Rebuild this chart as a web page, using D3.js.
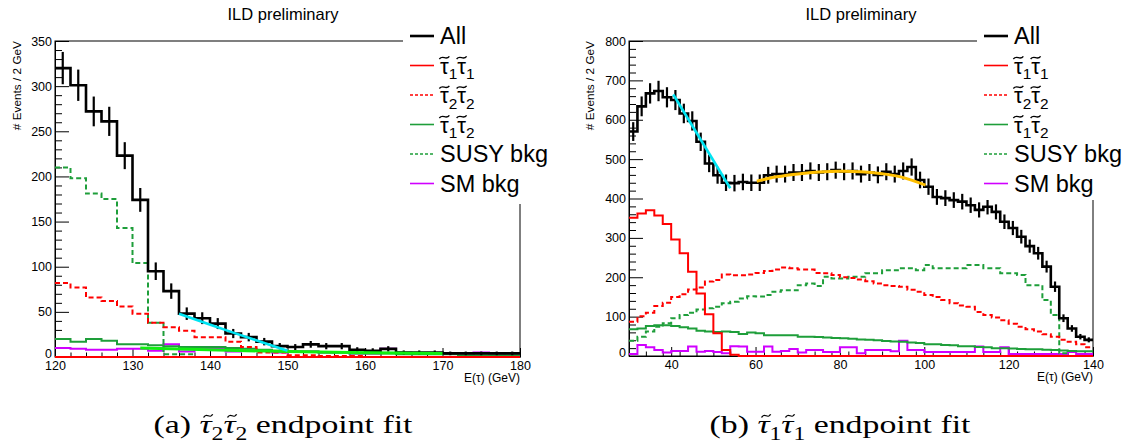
<!DOCTYPE html>
<html>
<head>
<meta charset="utf-8">
<script src="https://cdn.jsdelivr.net/npm/d3@7"></script>
<style>
body { margin: 0; background: #fff; }
svg { display: block; }
text { font-family: "Liberation Sans", Arial, sans-serif; fill: #000; }
</style>
</head>
<body>
<svg id="chart" width="1133" height="445"></svg>
<script>
'use strict';

// (a) stau2 stau2 panel, bins of 2 GeV from 120 to 180
var binsA = d3.range(120, 180, 2);
var allA = [320, 301, 272, 261, 223, 174, 95, 73, 48, 43, 37, 26, 22, 17, 12, 11, 14, 12, 12, 8, 7, 9, 5, 5, 5, 4, 4, 4, 4, 4];
var stau11A = [0, 0, 0, 0, 0, 0, 0, 0, 0, 0, 0, 0, 0, 0, 0, 0, 0, 0, 0, 0, 0, 0, 0, 0, 0, 0, 0, 0, 0, 0];
var stau22A = [82, 77, 66, 62, 56, 48, 38, 33, 29, 22, 22, 17, 11, 5, 5, 2, 2, 1, 1, 1, 0, 0, 0, 0, 0, 0, 0, 0, 0, 0];
var stau12A = [20, 17, 20, 18, 14, 14, 13, 12, 11, 11, 11, 10, 9, 8, 7, 6, 6, 5, 5, 4, 4, 4, 3, 3, 3, 3, 2, 2, 2, 2];
var susyA = [210, 198, 181, 175, 143, 104, 38, 3, 3, 0, 0, 0, 0, 0, 0, 0, 0, 0, 0, 0, 0, 0, 0, 0, 0, 0, 0, 0, 0, 0];
var smA = [10, 9, 8, 8, 9, 9, 7, 14, 6, 10, 10, 6, 7, 7, 5, 6, 6, 5, 5, 4, 4, 9, 5, 4, 4, 4, 4, 5, 2, 4];
var fitEdgeA = [[136, 48], [143, 27], [150, 7]];
var fitBkgA = [[131, 10], [150, 6], [170, 4]];

// (b) stau1 stau1 panel, bins of 2 GeV from 30 to 140
var binsB = d3.range(30, 140, 2);
var allB = [570, 634, 667, 673, 657, 650, 616, 597, 544, 489, 459, 440, 439, 442, 440, 440, 459, 462, 462, 466,
  466, 470, 466, 468, 472, 468, 470, 462, 466, 460, 468, 462, 470, 480, 447, 430, 404, 401, 396, 392,
  383, 371, 379, 366, 341, 325, 303, 279, 261, 227, 176, 96, 70, 49, 41];
var stau11B = [351, 362, 370, 357, 335, 296, 261, 214, 159, 106, 58, 15, 3, 0, 0, 0, 0, 0, 0, 0,
  0, 0, 0, 0, 0, 0, 0, 0, 0, 0, 0, 0, 0, 0, 0, 0, 0, 0, 0, 0,
  0, 0, 0, 0, 0, 0, 0, 0, 0, 0, 0, 0, 0, 0, 0];
var stau22B = [87, 101, 110, 127, 135, 150, 157, 169, 174, 189, 193, 207, 205, 205, 207, 211, 216, 220, 225, 223,
  220, 220, 211, 210, 206, 200, 198, 194, 190, 184, 180, 178, 176, 168, 163, 155, 150, 142, 134, 128,
  125, 112, 104, 98, 91, 82, 74, 68, 62, 55, 49, 41, 36, 30, 22];
var stau12B = [68, 70, 76, 78, 78, 76, 73, 70, 64, 62, 61, 62, 61, 56, 60, 58, 53, 53, 53, 53,
  49, 49, 48, 47, 46, 45, 44, 42, 41, 40, 38, 37, 36, 34, 33, 30, 30, 28, 27, 25,
  25, 23, 22, 20, 20, 19, 18, 17, 17, 16, 15, 14, 13, 12, 12];
var susyB = [39, 49, 62, 74, 83, 96, 104, 110, 118, 121, 125, 134, 138, 146, 152, 151, 155, 163, 167, 167,
  180, 184, 178, 201, 197, 197, 201, 201, 210, 210, 218, 218, 223, 223, 218, 231, 223, 223, 223, 223,
  231, 231, 223, 223, 210, 210, 206, 180, 180, 142, 104, 7, 0, 0, 0];
var smB = [5, 28, 22, 15, 9, 13, 13, 24, 11, 13, 10, 7, 25, 24, 11, 11, 24, 11, 13, 18,
  9, 15, 15, 10, 10, 22, 22, 7, 15, 15, 15, 12, 39, 15, 15, 10, 10, 10, 10, 10,
  10, 24, 10, 10, 22, 5, 5, 5, 5, 5, 5, 5, 10, 5, 5];
var fitEdgeB = [[40.5, 664], [54, 426]];
var fitPlateauB = [[60.3, 444], [65, 455], [70.6, 463], [75, 467], [80, 469], [85, 468], [90, 463], [94.4, 455], [100.3, 434]];

// axis ticks
var xTicksA = [120, 130, 140, 150, 160, 170, 180];
var yTicksA = [0, 50, 100, 150, 200, 250, 300, 350];
var xTicksB = [40, 60, 80, 100, 120, 140];
var yTicksB = [0, 100, 200, 300, 400, 500, 600, 700, 800];

var titleText = 'ILD preliminary';
var yLabel = '# Events / 2 GeV';
var xLabel = 'E(\u03c4) (GeV)';

var RED = '#ff0000', GREEN = '#1e9e3a', MAGENTA = '#d000ff', CYAN = '#00e4f2', ORANGE = '#ffbf00', LIME = '#10ee10';
var BIN = 2;
var SANS = '"Liberation Sans", Arial, sans-serif';
var SERIF = '"Liberation Serif", "Times New Roman", serif';

var svg = d3.select('#chart');

function stepPath(x, y, bins, vals) {
	var pts = bins.map(function(b, i) { return [b, vals[i]]; });
	pts.push([bins[bins.length - 1] + BIN, vals[vals.length - 1]]);
	return d3.line()
		.x(function(d) { return x(d[0]); })
		.y(function(d) { return y(d[1]); })
		.curve(d3.curveStepAfter)(pts);
}

// one text: [pre] tau_s tau_s [post], tildes drawn as small paths over each tau
function tauLabel(g, x, y, subs, o) {
	var t = g.append('text').attr('x', x).attr('y', y)
		.attr('text-anchor', o.anchor || null)
		.style('font-size', o.fs + 'px')
		.style('font-family', o.family);
	if (o.pre) t.append('tspan').text(o.pre);
	subs.forEach(function(s, i) {
		t.append('tspan').attr('dy', i ? -o.fs * 0.25 : null)
			.style('font-style', o.italic ? 'italic' : null).text('\u03c4');
		t.append('tspan').attr('dy', o.fs * 0.25)
			.style('font-size', (o.fs * 0.7) + 'px').text(s);
	});
	if (o.post) t.append('tspan').attr('dy', -o.fs * 0.25).text(o.post);

	var node = t.node();
	var str = node.textContent;
	for (var i = 0; i < str.length; i++) {
		if (str[i] !== '\u03c4') continue;
		var e = node.getExtentOfChar(i);
		var w = e.width * o.tildeW;
		var x0 = e.x + (e.width - w) / 2 + o.tildeDx;
		var x1 = x0 + w;
		var yc = y - o.fs * o.tildeUp;
		var a = o.fs * 0.06;
		g.append('path')
			.attr('d', 'M' + x0 + ',' + (yc + a) +
				'C' + (x0 + w * 0.35) + ',' + (yc - a * 2.4) + ' ' +
				(x1 - w * 0.35) + ',' + (yc + a * 2.4) + ' ' + x1 + ',' + (yc - a))
			.attr('fill', 'none').attr('stroke', '#000').attr('stroke-width', o.tildeStroke);
	}
	return t;
}

function drawPanel(p) {
	var g = svg.append('g');
	var x = d3.scaleLinear().domain(p.xDomain).range([p.left, p.right]);
	var y = d3.scaleLinear().domain(p.yDomain).range([p.bottom, p.top]);

	// frame
	g.append('rect')
		.attr('x', p.left).attr('y', p.top)
		.attr('width', p.right - p.left).attr('height', p.bottom - p.top)
		.attr('fill', 'none').attr('stroke', '#000').attr('stroke-width', 1);

	// axes with inward ticks
	var minorX = d3.range(p.xDomain[0], p.xDomain[1] + 0.01, p.xMinor).filter(function(v) { return p.xTicks.indexOf(v) < 0; });
	var minorY = d3.range(p.yDomain[0], p.yDomain[1] + 0.01, p.yMinor).filter(function(v) { return p.yTicks.indexOf(v) < 0; });

	g.append('g').attr('transform', 'translate(0,' + p.bottom + ')')
		.call(d3.axisBottom(x).tickValues(p.xTicks).tickSizeInner(-9).tickSizeOuter(0).tickPadding(4));
	g.append('g').attr('transform', 'translate(0,' + p.bottom + ')')
		.call(d3.axisBottom(x).tickValues(minorX).tickSizeInner(-4.5).tickSizeOuter(0).tickFormat(''))
		.select('.domain').remove();
	var ya = g.append('g').attr('transform', 'translate(' + p.left + ',0)')
		.call(d3.axisLeft(y).tickValues(p.yTicks).tickSizeInner(-14).tickSizeOuter(0).tickPadding(3));
	g.append('g').attr('transform', 'translate(' + p.left + ',0)')
		.call(d3.axisLeft(y).tickValues(minorY).tickSizeInner(-7).tickSizeOuter(0).tickFormat(''))
		.select('.domain').remove();
	g.selectAll('.tick text').style('font-size', '12.5px').attr('fill', '#000').style('font-family', SANS);
	g.selectAll('.tick line, .domain').attr('stroke', '#000');
	// keep the zero label clear of the first x label
	ya.selectAll('.tick text').filter(function(d) { return d === 0; }).attr('dy', '0.04em');

	// histograms
	var hg = g.append('g').attr('fill', 'none');
	p.series.forEach(function(s) {
		hg.append('path')
			.attr('d', stepPath(x, y, p.bins, s.vals))
			.attr('stroke', s.color)
			.attr('stroke-width', 2)
			.attr('stroke-dasharray', s.dash ? '5,3' : null);
	});

	// data "All" with error bars
	hg.append('path')
		.attr('d', stepPath(x, y, p.bins, p.all))
		.attr('stroke', '#000').attr('stroke-width', 2.6);
	hg.selectAll('line.err')
		.data(p.all.map(function(v, i) { return { b: p.bins[i], v: v }; }))
		.enter().append('line')
		.attr('class', 'err')
		.attr('x1', function(d) { return x(d.b + BIN / 2); })
		.attr('x2', function(d) { return x(d.b + BIN / 2); })
		.attr('y1', function(d) { return y(d.v - Math.sqrt(d.v)); })
		.attr('y2', function(d) { return y(d.v + Math.sqrt(d.v)); })
		.attr('stroke', '#000').attr('stroke-width', 2.2);

	// fits
	p.fits.forEach(function(f) {
		hg.append('path')
			.attr('d', d3.line()
				.x(function(d) { return x(d[0]); })
				.y(function(d) { return y(d[1]); })
				.curve(d3.curveCatmullRom)(f.pts))
			.attr('stroke', f.color).attr('stroke-width', f.width);
	});

	// axis titles
	g.append('text')
		.attr('transform', 'translate(' + p.yLabelX + ',' + p.top + ') rotate(-90)')
		.attr('text-anchor', 'end')
		.style('font-size', '11.8px')
		.text(yLabel);
	g.append('text')
		.attr('x', p.right).attr('y', p.bottom + 25)
		.attr('text-anchor', 'end')
		.style('font-size', '12px')
		.text(xLabel);

	// title
	g.append('text')
		.attr('x', p.titleX).attr('y', 20)
		.attr('text-anchor', 'middle')
		.style('font-size', '16.5px')
		.text(titleText);

	// legend
	var lg = g.append('g');
	lg.append('rect')
		.attr('x', p.legendX).attr('y', 22)
		.attr('width', 1133 - p.legendX).attr('height', p.legendBottom - 22)
		.attr('fill', '#fff');
	var entries = [
		{ label: 'All', color: '#000', width: 2.6 },
		{ tau: ['1', '1'], color: RED, width: 1.6 },
		{ tau: ['2', '2'], color: RED, width: 1.6, dash: true },
		{ tau: ['1', '2'], color: GREEN, width: 1.6 },
		{ label: 'SUSY bkg', color: GREEN, width: 1.6, dash: true },
		{ label: 'SM bkg', color: MAGENTA, width: 1.6 }
	];
	entries.forEach(function(e, i) {
		var ly = 36 + i * 29.5;
		var lx = p.legendX + 7;
		lg.append('line')
			.attr('x1', lx).attr('x2', lx + 24)
			.attr('y1', ly).attr('y2', ly)
			.attr('stroke', e.color).attr('stroke-width', e.width)
			.attr('stroke-dasharray', e.dash ? '3,2' : null);
		if (e.tau) {
			tauLabel(lg, lx + 30, ly + 8, e.tau,
				{ fs: 22, family: SANS, italic: false, tildeUp: 0.72, tildeW: 1.15, tildeDx: 0, tildeStroke: 1.4 });
		} else {
			lg.append('text')
				.attr('x', lx + 30).attr('y', ly + 8)
				.style('font-size', '23.5px')
				.text(e.label);
		}
	});

	// caption
	var cg = svg.append('g')
		.attr('transform', 'translate(' + p.capX + ',433) scale(' + p.capScale + ',1)');
	tauLabel(cg, 0, 0, p.capSubs,
		{ fs: p.capFs, family: SERIF, italic: true, anchor: 'middle', pre: p.capPre + '\u00a0',
		  post: '\u00a0endpoint fit', tildeUp: 0.66, tildeW: 0.75, tildeDx: 2, tildeStroke: 1.1 });
}

drawPanel({
	bins: binsA, all: allA,
	xDomain: [120, 180], yDomain: [0, 350],
	left: 55, right: 520, top: 41, bottom: 357,
	xTicks: xTicksA, yTicks: yTicksA, xMinor: 2, yMinor: 10,
	series: [
		{ vals: smA, color: MAGENTA },
		{ vals: susyA, color: GREEN, dash: true },
		{ vals: stau12A, color: GREEN },
		{ vals: stau22A, color: RED, dash: true },
		{ vals: stau11A, color: RED }
	],
	fits: [
		{ pts: fitBkgA, color: LIME, width: 3 },
		{ pts: fitEdgeA, color: CYAN, width: 2.6 }
	],
	yLabelX: 21, titleX: 283,
	legendX: 403, legendBottom: 204,
	capPre: '(a)', capSubs: ['2', '2'], capX: 283, capFs: 26, capScale: 1.3
});

drawPanel({
	bins: binsB, all: allB,
	xDomain: [30, 140], yDomain: [0, 800],
	left: 629, right: 1093, top: 41, bottom: 356,
	xTicks: xTicksB, yTicks: yTicksB, xMinor: 4, yMinor: 20,
	series: [
		{ vals: smB, color: MAGENTA },
		{ vals: susyB, color: GREEN, dash: true },
		{ vals: stau12B, color: GREEN },
		{ vals: stau22B, color: RED, dash: true },
		{ vals: stau11B, color: RED }
	],
	fits: [
		{ pts: fitEdgeB, color: CYAN, width: 2.6 },
		{ pts: fitPlateauB, color: ORANGE, width: 3 }
	],
	yLabelX: 594, titleX: 861,
	legendX: 977, legendBottom: 200,
	capPre: '(b)', capSubs: ['1', '1'], capX: 840, capFs: 26, capScale: 1.3
});
</script>
</body>
</html>
